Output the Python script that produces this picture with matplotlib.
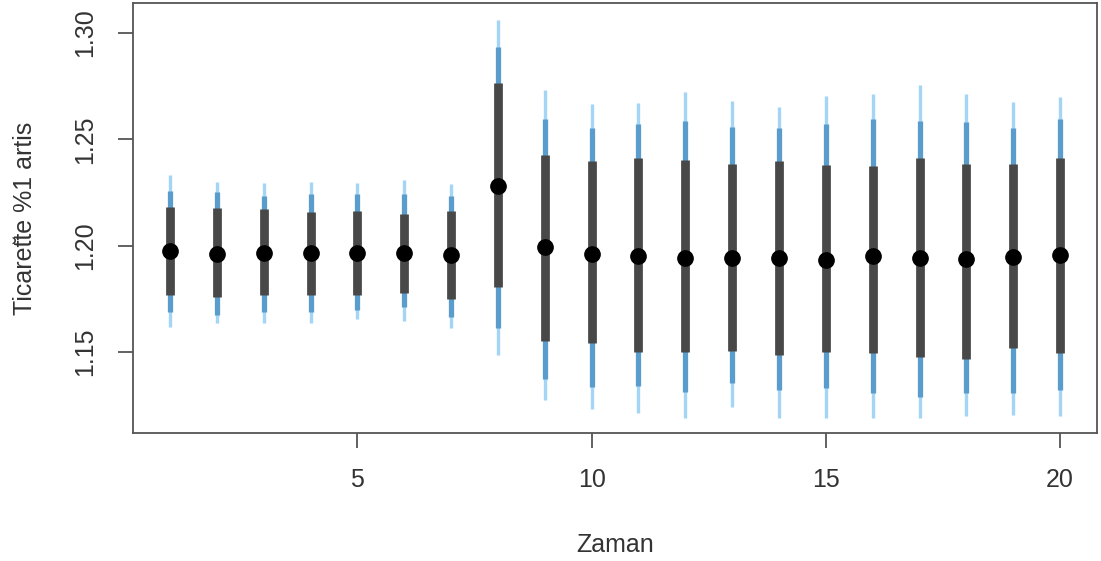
import matplotlib
matplotlib.use("Agg")
import matplotlib.pyplot as plt
import numpy as np

# Time points
zaman = list(range(1, 21))

# Medians
median = [1.1976, 1.1959, 1.1964, 1.1964, 1.1964, 1.1967, 1.1956, 1.2282, 1.1995, 1.1959,
          1.1953, 1.1941, 1.1941, 1.1941, 1.1933, 1.1953, 1.1941, 1.1936, 1.1945, 1.1956]

# Inner (dark) interval
inner_lo = [1.1768, 1.1757, 1.1768, 1.1768, 1.1768, 1.1776, 1.1748, 1.1804, 1.1553, 1.1541,
            1.1501, 1.1501, 1.1506, 1.1486, 1.1501, 1.1497, 1.1475, 1.1466, 1.1517, 1.1497]
inner_hi = [1.2183, 1.2176, 1.2171, 1.2157, 1.2164, 1.2147, 1.2164, 1.2763, 1.2426, 1.2398,
            1.2411, 1.2403, 1.2383, 1.2398, 1.2379, 1.2375, 1.2414, 1.2383, 1.2383, 1.2414]

# Middle (blue) interval
mid_lo = [1.1690, 1.1674, 1.1690, 1.1690, 1.1698, 1.1713, 1.1666, 1.1611, 1.1373, 1.1337,
          1.1340, 1.1313, 1.1353, 1.1321, 1.1329, 1.1306, 1.1290, 1.1309, 1.1306, 1.1321]
mid_hi = [1.2258, 1.2254, 1.2234, 1.2242, 1.2242, 1.2242, 1.2234, 1.2936, 1.2594, 1.2555,
          1.2571, 1.2586, 1.2559, 1.2555, 1.2571, 1.2594, 1.2588, 1.2583, 1.2552, 1.2594]

# Outer (light blue) interval
outer_lo = [1.1619, 1.1635, 1.1635, 1.1635, 1.1654, 1.1647, 1.1611, 1.1486, 1.1274, 1.1231,
            1.1212, 1.1188, 1.1243, 1.1188, 1.1188, 1.1188, 1.1188, 1.1199, 1.1204, 1.1199]
outer_hi = [1.2332, 1.2301, 1.2293, 1.2301, 1.2293, 1.2309, 1.2289, 1.3061, 1.2732, 1.2665,
            1.2672, 1.2724, 1.2682, 1.2653, 1.2704, 1.2713, 1.2755, 1.2713, 1.2677, 1.2698]

x_ticks = [5, 10, 15, 20]
y_ticks = [1.15, 1.20, 1.25, 1.30]
y_ticklabels = ["1.15", "1.20", "1.25", "1.30"]

plt.rcParams['font.family'] = ['Liberation Sans', 'DejaVu Sans']

fig = plt.figure(figsize=(11.01, 5.61), dpi=100)
ax = fig.add_axes([0.1208, 0.2282, 0.8756, 0.7665])

light = '#a3d5f6'
midc = '#5a9dcd'
dark = '#484848'

ax.vlines(zaman, outer_lo, outer_hi, colors=light, linewidth=2.4, capstyle='butt', zorder=2)
ax.vlines(zaman, mid_lo, mid_hi, colors=midc, linewidth=3.8, capstyle='butt', zorder=3)
ax.vlines(zaman, inner_lo, inner_hi, colors=dark, linewidth=6.3, capstyle='butt', zorder=4)
ax.plot(zaman, median, 'o', color='black', markersize=11, zorder=5)

ax.set_xlim(0.21, 20.79)
ax.set_ylim(1.1119, 1.3141)

ax.set_xticks(x_ticks)
ax.set_xticklabels([str(t) for t in x_ticks])
ax.set_yticks(y_ticks)
ax.set_yticklabels(y_ticklabels)

for s in ax.spines.values():
    s.set_color('#555555')
    s.set_linewidth(1.3)

ax.tick_params(axis='both', direction='out', length=10.5, width=1.3, color='#555555',
               labelsize=18, labelcolor='#333333', pad=15)
for lab in ax.get_yticklabels():
    lab.set_rotation(90)
    lab.set_va('center')
    lab.set_ha('center')
ax.tick_params(axis='y', pad=24)

ax.set_xlabel('Zaman', fontsize=18, color='#333333', labelpad=29)
ax.set_ylabel('Ticaret\u0306te %1 artis', fontsize=18, color='#333333', labelpad=26)

fig.savefig('out.png', dpi=100)
